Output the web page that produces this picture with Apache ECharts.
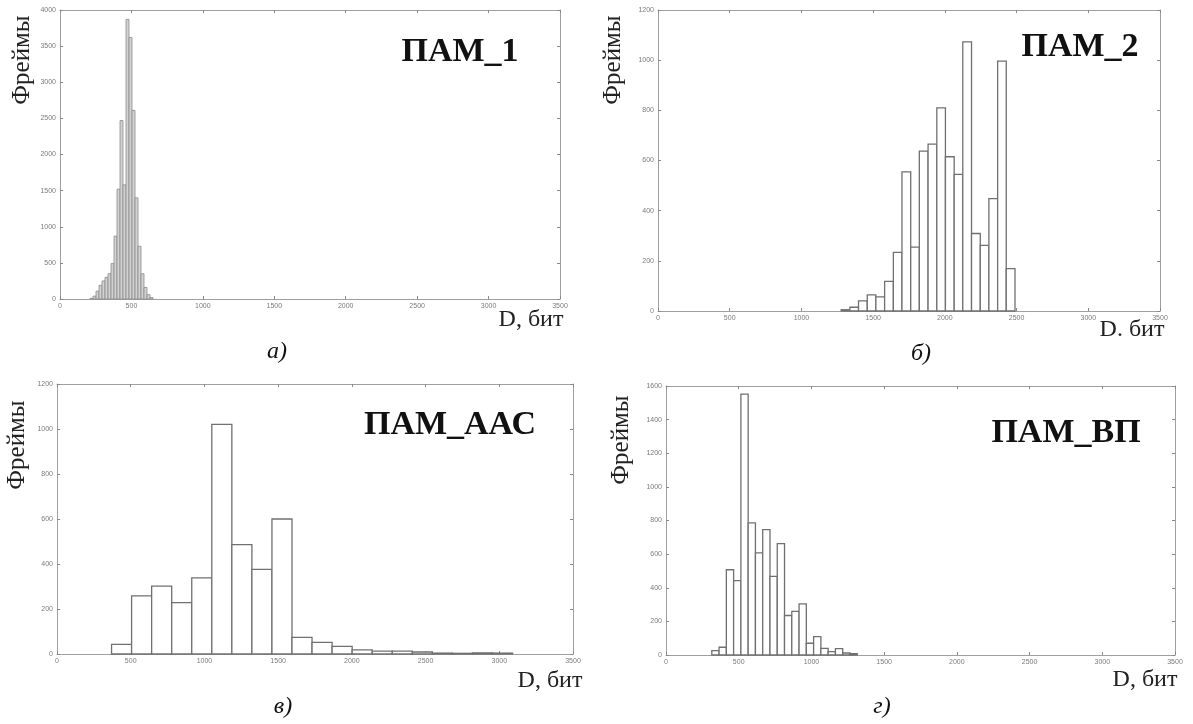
<!DOCTYPE html>
<html>
<head>
<meta charset="utf-8">
<script src="https://cdn.jsdelivr.net/npm/echarts@6/dist/echarts.min.js"></script>
<style>
  html, body { margin: 0; padding: 0; background: #fff; }
  #chart { width: 1193px; height: 724px; }
</style>
</head>
<body>
<div id="chart"></div>
<script>
// границы бинов и количество фреймов
var pam1Edges = [210, 231, 252, 273, 294, 315, 336, 357, 378, 399, 420, 441, 462, 483, 504, 525, 546, 567, 588, 609, 630, 651];
var pam1Counts = [10, 40, 110, 190, 250, 300, 350, 490, 870, 1520, 2470, 1580, 3870, 3620, 2610, 1400, 730, 350, 160, 60, 20];

var pam2Edges = [1277, 1338, 1398, 1459, 1519, 1580, 1641, 1701, 1762, 1822, 1883, 1944, 2004, 2065, 2125, 2186, 2247, 2307, 2368, 2428, 2489];
var pam2Counts = [5, 15, 40, 64, 56, 118, 234, 555, 255, 637, 665, 810, 615, 545, 1073, 309, 262, 448, 996, 169];

var pamAacEdges = [370, 506, 642, 778, 914, 1050, 1186, 1322, 1458, 1594, 1730, 1866, 2002, 2138, 2274, 2410, 2546, 2682, 2818, 2954, 3090];
var pamAacCounts = [43, 258, 302, 228, 338, 1021, 486, 376, 600, 74, 52, 34, 18, 13, 13, 9, 4, 3, 5, 4];

var pamVpEdges = [315, 365, 415, 465, 515, 565, 615, 665, 715, 765, 815, 865, 915, 965, 1015, 1065, 1115, 1165, 1215, 1265, 1315];
var pamVpCounts = [26, 46, 507, 442, 1552, 786, 607, 746, 468, 663, 235, 259, 304, 70, 109, 40, 20, 38, 12, 8];

var titles = ["ПАМ_1", "ПАМ_2", "ПАМ_ААС", "ПАМ_ВП"];
var xNames = ["D, бит", "D. бит", "D, бит", "D, бит"];
var captions = ["а)", "б)", "в)", "г)"];
var yMax = [4000, 1200, 1200, 1600];
var yStep = [500, 200, 200, 200];
var xMax = 3500;
var xStep = 500;

var hists = [
  { edges: pam1Edges, counts: pam1Counts, fill: "#d2d2d2", stroke: "#8c8c8c", lw: 0.8 },
  { edges: pam2Edges, counts: pam2Counts, fill: "#fff", stroke: "#707070", lw: 1.3 },
  { edges: pamAacEdges, counts: pamAacCounts, fill: "#fff", stroke: "#707070", lw: 1.3 },
  { edges: pamVpEdges, counts: pamVpCounts, fill: "#fff", stroke: "#707070", lw: 1.3 }
];

// положение панелей
var grids = [
  { left: 60, top: 10, width: 500, height: 289 },
  { left: 658, top: 10, width: 502, height: 301 },
  { left: 57, top: 384, width: 516, height: 270 },
  { left: 666, top: 386, width: 509, height: 269 }
];

var boxColor = "#a0a0a0";
var labelStyle = {
  fontSize: 7, color: "#7a7a7a", fontFamily: "Liberation Sans",
  formatter: function (v) { return String(v); }
};

var xAxes = [], yAxes = [], series = [];
grids.forEach(function (g, i) {
  ["bottom", "top"].forEach(function (pos) {
    xAxes.push({
      gridIndex: i, type: "value", position: pos, min: 0, max: xMax, interval: xStep,
      axisLine: { show: true, onZero: false, lineStyle: { color: boxColor, width: 1 } },
      axisTick: { show: true, inside: true, length: 3, lineStyle: { color: "#888" } },
      axisLabel: Object.assign({ show: pos === "bottom", margin: 4 }, labelStyle),
      splitLine: { show: false }
    });
  });
  ["left", "right"].forEach(function (pos) {
    yAxes.push({
      gridIndex: i, type: "value", position: pos, min: 0, max: yMax[i], interval: yStep[i],
      axisLine: { show: true, onZero: false, lineStyle: { color: boxColor, width: 1 } },
      axisTick: { show: true, inside: true, length: 3, lineStyle: { color: "#888" } },
      axisLabel: Object.assign({ show: pos === "left", margin: 4 }, labelStyle),
      splitLine: { show: false }
    });
  });

  var h = hists[i];
  var data = h.counts.map(function (c, k) {
    return [h.edges[k], h.edges[k + 1], c];
  });
  series.push({
    type: "custom",
    xAxisIndex: 2 * i,
    yAxisIndex: 2 * i,
    data: data,
    encode: { x: [0, 1], y: 2 },
    renderItem: function (params, api) {
      var p0 = api.coord([api.value(0), api.value(2)]);
      var p1 = api.coord([api.value(1), 0]);
      return {
        type: "rect",
        shape: { x: p0[0], y: p0[1], width: p1[0] - p0[0], height: p1[1] - p0[1] },
        style: { fill: h.fill, stroke: h.stroke, lineWidth: h.lw }
      };
    }
  });
});

// подписи
var titlePos = [[460, 52], [1080, 47], [450, 425], [1066, 433]];
var xNamePos = [[531, 320], [1132, 330], [550, 681], [1145, 680]];
var capPos = [[277, 352], [921, 354], [283, 707], [882, 707]];
var yNamePos = [[22, 60], [613, 60], [17, 445], [621, 440]];

var graphic = [];
for (var i = 0; i < 4; i++) {
  graphic.push({
    type: "text", x: titlePos[i][0], y: titlePos[i][1],
    style: { text: titles[i], fontSize: 34, fontWeight: "bold", fontFamily: "Liberation Serif",
      fill: "#111", textAlign: "center", textVerticalAlign: "middle", align: "center", verticalAlign: "middle" }
  });
  graphic.push({
    type: "text", x: xNamePos[i][0], y: xNamePos[i][1],
    style: { text: xNames[i], fontSize: 24, fontFamily: "Liberation Serif",
      fill: "#222", textAlign: "center", textVerticalAlign: "middle", align: "center", verticalAlign: "middle" }
  });
  graphic.push({
    type: "text", x: capPos[i][0], y: capPos[i][1],
    style: { text: captions[i], fontSize: 24, fontStyle: "italic", fontFamily: "Liberation Serif",
      fill: "#111", textAlign: "center", textVerticalAlign: "middle", align: "center", verticalAlign: "middle" }
  });
  graphic.push({
    type: "text", x: yNamePos[i][0], y: yNamePos[i][1], rotation: Math.PI / 2,
    style: { text: "Фреймы", fontSize: 25, fontFamily: "Liberation Serif",
      fill: "#222", textAlign: "center", textVerticalAlign: "middle", align: "center", verticalAlign: "middle" }
  });
}

var chart = echarts.init(document.getElementById("chart"));
chart.setOption({
  backgroundColor: "#fff",
  animation: false,
  grid: grids,
  xAxis: xAxes,
  yAxis: yAxes,
  series: series,
  graphic: graphic
});
</script>
</body>
</html>
